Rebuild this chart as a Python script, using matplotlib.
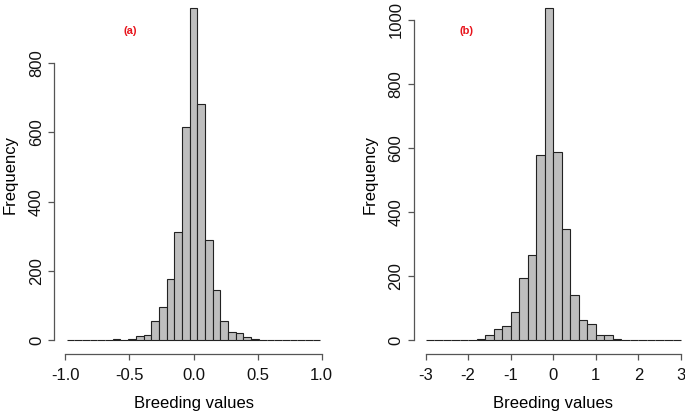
import numpy as np
import matplotlib
matplotlib.use('Agg')
import matplotlib.pyplot as plt

plt.rcParams['font.family'] = ['Liberation Sans', 'DejaVu Sans']
plt.rcParams['axes.unicode_minus'] = False

# Histogram (a): bins of width 0.06 from -0.99 to 0.99
bins_a = np.round(np.arange(-0.99, 0.99 + 1e-9, 0.06), 2)
counts_a = [0, 0, 0, 0, 0, 0, 2, 0, 2, 11, 15, 55, 96, 177, 311, 617, 960,
            681, 289, 146, 56, 22, 19, 8, 3, 1, 0, 0, 0, 0, 0, 0, 0]

# Histogram (b): bins of width 0.2 from -3 to 3
bins_b = np.round(np.arange(-3.0, 3.0 + 1e-9, 0.2), 1)
counts_b = [0, 0, 0, 0, 1, 1, 2, 16, 33, 45, 89, 194, 266, 577, 1038,
            586, 346, 140, 61, 50, 15, 15, 3, 1, 0, 0, 0, 0, 0, 0]

xticks_a = [-1.0, -0.5, 0.0, 0.5, 1.0]
yticks_a = [0, 200, 400, 600, 800]
xticks_b = [-3, -2, -1, 0, 1, 2, 3]
yticks_b = [0, 200, 400, 600, 800, 1000]

fig = plt.figure(figsize=(6.85, 4.12), dpi=100)
ax_a = fig.add_axes([0.0793, 0.140, 0.4064, 0.8752])
ax_b = fig.add_axes([0.6044, 0.140, 0.4066, 0.8752])

axis_col = '#555555'


def draw_hist(ax, bins, counts, xticks, yticks, xlim, ylim, tag, tag_xy):
    ax.bar(bins[:-1], counts, width=np.diff(bins), align='edge',
           color='#bebebe', edgecolor='#222222', linewidth=0.8)
    ax.set_xlim(*xlim)
    ax.set_ylim(*ylim)
    for s in ['top', 'right']:
        ax.spines[s].set_visible(False)
    ax.spines['left'].set_bounds(yticks[0], yticks[-1])
    ax.spines['bottom'].set_bounds(xticks[0], xticks[-1])
    for s in ['left', 'bottom']:
        ax.spines[s].set_color(axis_col)
        ax.spines[s].set_linewidth(0.9)
    ax.set_xticks(xticks)
    ax.set_yticks(yticks)
    if isinstance(xticks[0], float):
        ax.set_xticklabels([f'{t:.1f}' for t in xticks])
    ax.tick_params(axis='both', direction='out', length=4.5, width=0.9,
                   color=axis_col, labelsize=12, labelcolor='#111111')
    ax.tick_params(axis='x', pad=5.5)
    ax.tick_params(axis='y', pad=3)
    for lab in ax.get_yticklabels():
        lab.set_rotation(90)
        lab.set_va('center')
    ax.set_xlabel('Breeding values', fontsize=12, labelpad=9)
    ax.set_ylabel('Frequency', fontsize=12, labelpad=8)
    ax.text(tag_xy[0], tag_xy[1], tag, color='#e8141c', fontsize=8,
            fontweight='bold', ha='center', va='center')


draw_hist(ax_a, bins_a, counts_a, xticks_a, yticks_a,
          (-1.086, 1.086), (-41.3, 1001), '(a)', (-0.49, 892))
draw_hist(ax_b, bins_b, counts_b, xticks_b, yticks_b,
          (-3.27, 3.27), (-44.7, 1082), '(b)', (-2.03, 966))

fig.savefig('out.png', dpi=100)
